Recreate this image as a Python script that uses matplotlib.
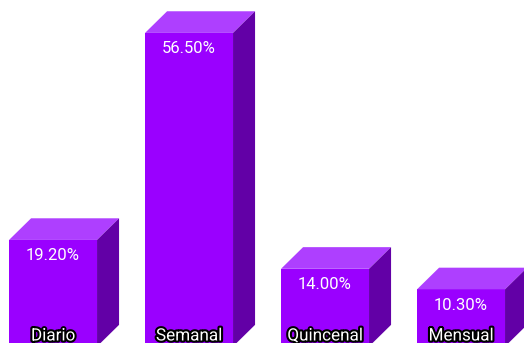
import matplotlib
matplotlib.use("Agg")
import matplotlib.pyplot as plt
import matplotlib.patheffects as pe
from matplotlib.patches import Polygon

# frequency shares (%)
categories = ["Diario", "Semanal", "Quincenal", "Mensual"]
values = [19.2, 56.5, 14.0, 10.3]
labels = ["19.20%", "56.50%", "14.00%", "10.30%"]

front_color = "#9a00ff"
top_color = "#ae3fff"
side_color = "#6200a6"

bar_w = 0.647
dx = 0.162   # depth offset along x (category units)
dy = 3.9     # depth offset along y (value units)

fig = plt.figure(figsize=(5.24, 3.43), dpi=100)
ax = fig.add_axes([0, 0, 1, 1])
ax.set_xlim(-0.39, 3.463)
ax.set_ylim(0.63, 62.43)
ax.axis("off")

for i, (cat, v, lab) in enumerate(zip(categories, values, labels)):
    x0 = i - bar_w / 2
    x1 = i + bar_w / 2
    # front face
    ax.add_patch(Polygon([(x0, 0), (x1, 0), (x1, v), (x0, v)],
                         closed=True, fc=front_color, ec="none"))
    # top face
    ax.add_patch(Polygon([(x0, v), (x1, v), (x1 + dx, v + dy), (x0 + dx, v + dy)],
                         closed=True, fc=top_color, ec="none"))
    # right side
    ax.add_patch(Polygon([(x1, 0), (x1 + dx, dy), (x1 + dx, v + dy), (x1, v)],
                         closed=True, fc=side_color, ec="none"))

    ax.annotate(lab, xy=(i, v), xytext=(0, -16), textcoords="offset pixels",
                ha="center", va="center", color="white", fontsize=12,
                family="Roboto")
    ax.annotate(cat, xy=(i, 0.63), xytext=(0, 7), textcoords="offset pixels",
                ha="center", va="center", color="white", fontsize=12.3,
                family="Roboto",
                path_effects=[pe.withStroke(linewidth=3, foreground="black")])

plt.savefig("out.png", dpi=100)
